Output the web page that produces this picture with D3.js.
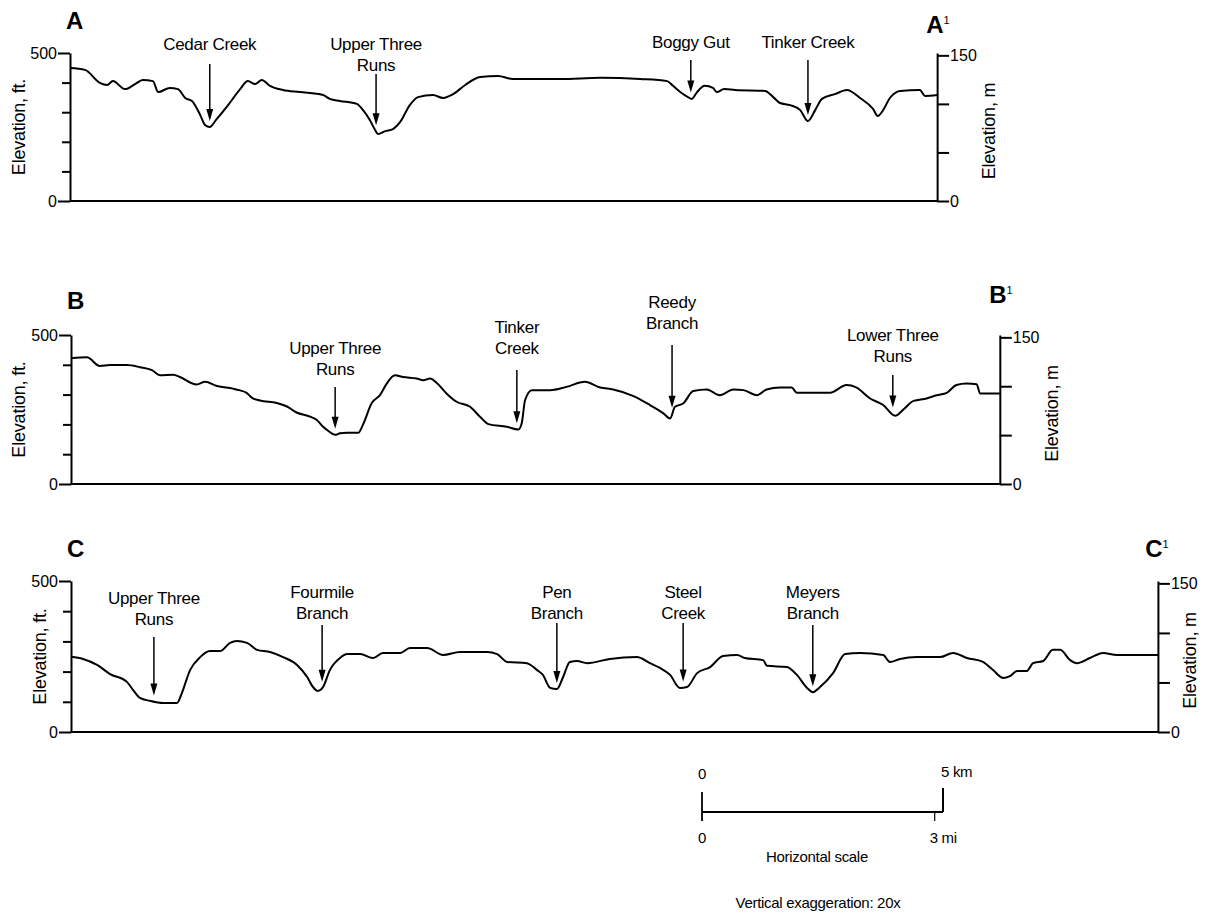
<!DOCTYPE html>
<html>
<head>
<meta charset="utf-8">
<script src="https://cdn.jsdelivr.net/npm/d3@7"></script>
<style>
  body { margin: 0; background: #fff; }
  svg text { font-family: "Liberation Sans", Arial, Helvetica, sans-serif; fill: #000; }
  .lbl { font-size: 17px; letter-spacing: -0.3px; }
  .title { font-size: 18px; letter-spacing: -0.2px; }
  .tick text { font-size: 16px; }
  .axis path, .axis line { stroke: #000; stroke-width: 2; }
  .profile { fill: none; stroke: #000; stroke-width: 2; stroke-linejoin: round; }
</style>
</head>
<body>
<div id="chart"></div>
<script>

// profiles: [distance along section (km), elevation (ft)]
var profileA = [[0.00,449],[0.31,443],[0.62,399],[0.77,392],[0.89,405],[1.14,378],[1.35,395],[1.51,409],
  [1.72,405],[1.83,368],[2.07,382],[2.24,378],[2.39,348],[2.53,338],[2.70,291],[2.80,257],[2.90,250],
  [3.03,274],[3.28,324],[3.53,378],[3.69,405],[3.84,395],[3.98,409],[4.15,389],[4.42,375],[4.77,368],
  [5.25,358],[5.39,345],[5.60,338],[5.95,328],[6.08,307],[6.22,274],[6.33,240],[6.39,226],[6.54,236],
  [6.70,243],[6.85,267],[7.05,324],[7.22,351],[7.53,358],[7.74,348],[7.95,361],[8.20,392],[8.51,419],
  [8.88,422],[9.19,412],[10.17,412],[11.00,416],[11.83,412],[12.39,405],[12.51,389],[12.66,368],
  [12.82,351],[12.90,345],[13.01,368],[13.17,389],[13.34,382],[13.42,368],[13.57,378],[13.80,375],
  [14.42,372],[14.59,351],[14.73,331],[14.94,324],[15.15,307],[15.31,270],[15.46,307],[15.60,345],
  [15.87,361],[16.12,375],[16.39,348],[16.66,311],[16.76,287],[16.87,307],[17.01,348],[17.22,372],
  [17.63,375],[17.74,355],[17.99,358]];

var profileB = [[0.00,422],[0.33,425],[0.60,396],[0.81,399],[1.16,399],[1.43,392],[1.68,382],[1.85,365],
  [2.12,367],[2.26,359],[2.61,334],[2.78,343],[3.03,329],[3.36,320],[3.49,315],[3.65,305],[3.75,290],
  [3.92,280],[4.27,272],[4.48,260],[4.68,240],[4.96,226],[5.10,215],[5.23,192],[5.34,178],[5.48,165],
  [5.58,170],[5.72,172],[5.96,172],[6.06,200],[6.24,272],[6.41,298],[6.55,337],[6.72,365],
  [6.89,359],[7.17,354],[7.31,348],[7.45,354],[7.59,339],[7.79,304],[8.00,276],[8.28,259],[8.49,225],
  [8.66,201],[9.04,192],[9.28,183],[9.35,203],[9.42,281],[9.56,315],[9.94,315],[10.28,326],[10.66,343],
  [10.98,324],[11.25,317],[11.67,295],[12.01,265],[12.29,237],[12.43,220],[12.53,259],[12.70,270],
  [12.91,312],[13.19,317],[13.46,298],[13.74,317],[13.95,315],[14.23,298],[14.43,317],[14.71,324],
  [14.95,324],[15.06,306],[15.75,306],[16.09,332],[16.29,324],[16.58,287],[16.85,265],[17.10,229],
  [17.27,250],[17.48,279],[17.75,287],[17.96,298],[18.17,306],[18.37,332],[18.58,337],[18.79,335],
  [18.86,304],[19.27,304]];

var profileC = [[0.00,249],[0.25,242],[0.54,222],[0.81,192],[1.16,166],[1.29,139],[1.43,113],[1.64,103],
  [1.91,96],[2.20,96],[2.30,129],[2.47,205],[2.68,248],[2.88,268],[3.09,268],[3.30,295],[3.44,301],
  [3.65,295],[3.86,272],[4.13,265],[4.40,248],[4.69,222],[4.90,182],[5.02,149],[5.12,136],[5.23,149],
  [5.37,205],[5.58,245],[5.73,258],[6.00,258],[6.27,245],[6.47,262],[6.83,262],[7.03,278],[7.39,278],
  [7.72,255],[8.07,265],[8.63,265],[8.84,258],[9.05,232],[9.46,228],[9.67,205],[9.79,189],[9.94,146],
  [10.08,142],[10.21,182],[10.35,232],[10.50,235],[10.71,228],[11.18,242],[11.74,248],[12.01,228],
  [12.22,212],[12.43,189],[12.63,146],[12.78,149],[12.99,195],[13.26,215],[13.53,252],[13.82,255],
  [13.98,245],[14.36,238],[14.44,219],[14.85,215],[15.06,189],[15.27,146],[15.39,132],[15.54,149],
  [15.81,195],[16.06,258],[16.37,262],[16.85,255],[16.99,232],[17.20,242],[17.55,248],[18.03,248],
  [18.30,262],[18.59,245],[18.92,232],[19.13,205],[19.34,179],[19.48,185],[19.63,202],[19.83,202],
  [19.96,228],[20.17,235],[20.37,272],[20.52,272],[20.73,238],[20.87,228],[21.14,245],[21.41,262],
  [21.70,255],[22.55,255]];

// streams crossed by each section: label lines and distance (km)
var streamsA = [
  { name: ["Cedar Creek"], km: 2.90 },
  { name: ["Upper Three", "Runs"], km: 6.35 },
  { name: ["Boggy Gut"], km: 12.88 },
  { name: ["Tinker Creek"], km: 15.31 }
];
var streamsB = [
  { name: ["Upper Three", "Runs"], km: 5.48 },
  { name: ["Tinker", "Creek"], km: 9.25 },
  { name: ["Reedy", "Branch"], km: 12.47 },
  { name: ["Lower Three", "Runs"], km: 17.05 }
];
var streamsC = [
  { name: ["Upper Three", "Runs"], km: 1.72 },
  { name: ["Fourmile", "Branch"], km: 5.21 },
  { name: ["Pen", "Branch"], km: 10.08 },
  { name: ["Steel", "Creek"], km: 12.70 },
  { name: ["Meyers", "Branch"], km: 15.39 }
];

var ftTicks = [0, 100, 200, 300, 400, 500];
var ftLabels = [0, 500];
var mTicks = [0, 50, 100, 150];
var mLabels = [0, 150];
var FT_PER_M = 3.2808;

var scaleKm = [0, 5];
var scaleMi = [0, 3];
var KM_PER_MI = 1.609344;

// layout of each section (pixels)
var panels = [
  { id: "A", data: profileA, streams: streamsA, left: 70, top: 53, bottom: 201, pxPerKm: 48.2,
    ftTitleX: 19, mTitleX: 989, nameY: 29, name2X: 938, name2Y: 33,
    labelY: [50, 50, 48, 48], arrowTop: [64, 74, 60, 60] },
  { id: "B", data: profileB, streams: streamsB, left: 71, top: 335, bottom: 484, pxPerKm: 48.2,
    ftTitleX: 19, mTitleX: 1052, nameY: 309, name2X: 1001, name2Y: 303,
    labelY: [354, 333, 308, 341], arrowTop: [387, 370, 345, 375] },
  { id: "C", data: profileC, streams: streamsC, left: 71, top: 581, bottom: 732, pxPerKm: 48.2,
    ftTitleX: 40, mTitleX: 1190, nameY: 557, name2X: 1157, name2Y: 557,
    labelY: [604, 598, 598, 598, 598], arrowTop: [637, 625, 623, 623, 625] }
];

var width = 1209, height = 917;

var svg = d3.select("#chart")
  .append("svg")
  .attr("width", width)
  .attr("height", height);

panels.forEach(function(p) {
  var maxKm = d3.max(p.data, function(d) { return d[0]; });
  var right = p.left + maxKm * p.pxPerKm;

  var x = d3.scaleLinear().domain([0, maxKm]).range([p.left, right]);
  var y = d3.scaleLinear().domain([0, 500]).range([p.bottom, p.top]);
  var yM = d3.scaleLinear().domain([0, 500 / FT_PER_M]).range([p.bottom, p.top]);

  var g = svg.append("g");

  // axes
  var left = g.append("g")
    .attr("class", "axis")
    .attr("transform", "translate(" + p.left + ",0)")
    .call(d3.axisLeft(y)
      .tickValues(ftTicks)
      .tickSizeInner(12)
      .tickSizeOuter(0)
      .tickPadding(1)
      .tickFormat(function(d) { return ftLabels.indexOf(d) >= 0 ? d : ""; }));
  // unlabelled ticks are shorter
  left.selectAll(".tick line")
    .attr("x2", function(d) { return ftLabels.indexOf(d) >= 0 ? -12 : -8; });

  g.append("g")
    .attr("class", "axis")
    .attr("transform", "translate(" + right + ",0)")
    .call(d3.axisRight(yM)
      .tickValues(mTicks)
      .tickSizeInner(12)
      .tickSizeOuter(0)
      .tickPadding(1)
      .tickFormat(function(d) { return mLabels.indexOf(d) >= 0 ? d : ""; }));

  // ground base line
  g.append("line")
    .attr("x1", p.left).attr("x2", right)
    .attr("y1", y(0)).attr("y2", y(0))
    .attr("stroke", "#000").attr("stroke-width", 2.2);

  // axis titles
  g.append("text")
    .attr("class", "title")
    .attr("transform", "translate(" + p.ftTitleX + "," + (p.top + p.bottom) / 2 + ")rotate(-90)")
    .attr("dy", "0.35em")
    .style("text-anchor", "middle")
    .text("Elevation, ft.");

  g.append("text")
    .attr("class", "title")
    .attr("transform", "translate(" + p.mTitleX + "," + ((p.top + p.bottom) / 2 + 4) + ")rotate(-90)")
    .attr("dy", "0.35em")
    .style("text-anchor", "middle")
    .text("Elevation, m");

  // section end letters
  g.append("text")
    .attr("x", p.left - 4).attr("y", p.nameY)
    .style("font-size", "24px").style("font-weight", "bold")
    .text(p.id);

  var n2 = g.append("text")
    .attr("x", p.name2X).attr("y", p.name2Y)
    .style("font-size", "24px").style("font-weight", "bold")
    .style("text-anchor", "middle");
  n2.append("tspan").text(p.id);
  n2.append("tspan").attr("dy", -9).style("font-size", "11px").style("font-weight", "normal").text("1");

  // profile line
  var line = d3.line()
    .x(function(d) { return x(d[0]); })
    .y(function(d) { return y(d[1]); })
    .curve(d3.curveMonotoneX);

  g.append("path")
    .datum(p.data)
    .attr("class", "profile")
    .attr("d", line);

  // stream labels and arrows
  var bis = d3.bisector(function(d) { return d[0]; }).left;
  function elevAt(km) {
    var i = bis(p.data, km);
    if (i <= 0) return p.data[0][1];
    var a = p.data[i - 1], b = p.data[i];
    var t = (km - a[0]) / (b[0] - a[0]);
    return a[1] + t * (b[1] - a[1]);
  }

  p.streams.forEach(function(s, i) {
    var sx = x(s.km);
    var t = g.append("text")
      .attr("class", "lbl")
      .style("text-anchor", "middle");
    s.name.forEach(function(line, j) {
      t.append("tspan")
        .attr("x", sx)
        .attr("y", p.labelY[i] + j * 21)
        .text(line);
    });

    var tip = y(elevAt(s.km)) - 6;
    g.append("line")
      .attr("x1", sx).attr("x2", sx)
      .attr("y1", p.arrowTop[i]).attr("y2", tip - 6)
      .attr("stroke", "#000").attr("stroke-width", 1.5);
    g.append("path")
      .attr("d", "M" + sx + "," + tip + "L" + (sx - 3.5) + "," + (tip - 12) +
                 "L" + (sx + 3.5) + "," + (tip - 12) + "Z")
      .attr("fill", "#000");
  });
});

// horizontal scale bar
var sb = svg.append("g");
var xs = d3.scaleLinear().domain(scaleKm).range([702, 943]);
var barY = 812;

sb.append("line")
  .attr("x1", xs(0)).attr("x2", xs(scaleKm[1]))
  .attr("y1", barY).attr("y2", barY)
  .attr("stroke", "#000").attr("stroke-width", 1.8);
sb.append("line")
  .attr("x1", xs(0)).attr("x2", xs(0))
  .attr("y1", barY - 20).attr("y2", barY + 9)
  .attr("stroke", "#000").attr("stroke-width", 1.8);
sb.append("line")
  .attr("x1", xs(scaleKm[1])).attr("x2", xs(scaleKm[1]))
  .attr("y1", barY - 24).attr("y2", barY)
  .attr("stroke", "#000").attr("stroke-width", 2);
sb.append("line")
  .attr("x1", xs(scaleMi[1] * KM_PER_MI)).attr("x2", xs(scaleMi[1] * KM_PER_MI))
  .attr("y1", barY).attr("y2", barY + 9)
  .attr("stroke", "#000").attr("stroke-width", 1.2);

sb.append("text").attr("class", "lbl").attr("x", xs(0)).attr("y", 779)
  .style("font-size", "15px").style("text-anchor", "middle").text(scaleKm[0]);
sb.append("text").attr("class", "lbl").attr("x", xs(scaleKm[1]) - 2).attr("y", 777)
  .style("font-size", "15px").text(scaleKm[1] + " km");
sb.append("text").attr("class", "lbl").attr("x", xs(0)).attr("y", 843)
  .style("font-size", "15px").style("text-anchor", "middle").text(scaleMi[0]);
sb.append("text").attr("class", "lbl").attr("x", xs(scaleMi[1] * KM_PER_MI) - 5).attr("y", 843)
  .style("font-size", "15px").text(scaleMi[1] + " mi");
sb.append("text").attr("class", "lbl").attr("x", 817).attr("y", 862)
  .style("font-size", "15px").style("text-anchor", "middle").text("Horizontal scale");
sb.append("text").attr("class", "lbl").attr("x", 818).attr("y", 908)
  .style("font-size", "15px").style("text-anchor", "middle").text("Vertical exaggeration: 20x");

</script>
</body>
</html>
